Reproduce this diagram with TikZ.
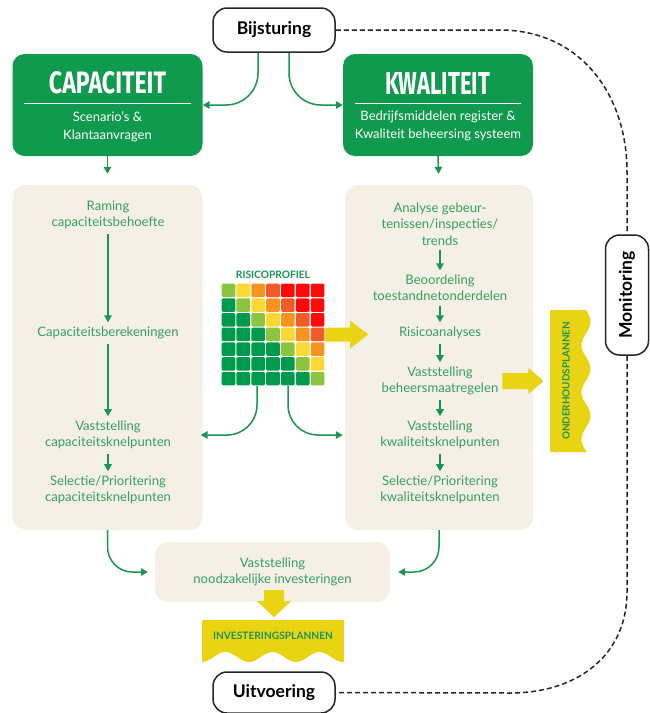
\documentclass[tikz,border=0pt]{standalone}
\usepackage{graphicx}
\usepackage{fontspec}
\setmainfont{Lato}
\newfontfamily\titlefont{Fira Sans}
\usetikzlibrary{arrows.meta,calc}
\definecolor{gbox}{HTML}{0F9A4E}
\definecolor{gline}{HTML}{1B9552}
\definecolor{gtext}{HTML}{36A062}
\definecolor{beige}{HTML}{F4F0E5}
\definecolor{ylw}{HTML}{E9D414}
\definecolor{cg}{HTML}{009A4E}
\definecolor{c0}{HTML}{8BC53F}
\definecolor{c1}{HTML}{FDD835}
\definecolor{c2}{HTML}{F7941D}
\definecolor{c3}{HTML}{F15A29}
\definecolor{c4}{HTML}{FF0A0A}
\tikzset{
  greenbox/.style={fill=gbox, rounded corners=12pt, minimum width=190pt, minimum height=102pt, inner sep=0pt},
  panel/.style={fill=beige, rounded corners=13pt, inner sep=0pt},
  steptext/.style={text=gtext, align=center, font=\fontsize{13.1}{16.3}\selectfont, inner xsep=2pt, inner ysep=4.5pt},
  garrow/.style={draw=gline, line width=1.5pt, -{Triangle[width=7.5pt,length=7pt]}},
  pill/.style={draw=black!85, line width=1.5pt, rounded corners=14pt, fill=white, font=\bfseries\fontsize{17.5}{19}\selectfont, inner sep=0pt},
  monline/.style={draw=black!85, line width=1.5pt, dash pattern=on 5pt off 3pt},
  bantext/.style={text=gline, font=\bfseries\fontsize{10.2}{11}\selectfont, inner sep=0pt},
  subtext/.style={text=white, align=center, font=\fontsize{13}{18}\selectfont, inner sep=0pt},
}
\begin{document}
\begin{tikzpicture}[x=1pt,y=-1pt]
\useasboundingbox[fill=white] (0,0) rectangle (649,713);

% dashed monitoring loop
\node[pill, minimum width=122pt, minimum height=44pt] (bij) at (274,30) {Bijsturing};
\node[pill, minimum width=122pt, minimum height=41pt] (uit) at (274,692.5) {Uitvoering};
\node[pill, rotate=90, minimum width=120pt, minimum height=43pt] (mon) at (627,295) {Monitoring};
\draw[monline] (bij.east) -- (500,30) .. controls (578,30) and (627,92) .. (627,172) -- (mon.east);
\draw[monline] (mon.west) -- (627,592) .. controls (627,655) and (578,693) .. (510,693) -- (uit.east);

% green header boxes
\node[greenbox] (cap) at (107.5,105) {};
\node[greenbox] (kwal) at (438,105) {};
\node[text=white, inner sep=0pt] (captitle) at (107.5,83) {\resizebox{117pt}{22pt}{\titlefont\bfseries CAPACITEIT}};
\node[text=white, inner sep=0pt] (kwaltitle) at (437.5,83) {\resizebox{105pt}{22pt}{\titlefont\bfseries KWALITEIT}};
\draw[white, line width=0.8pt] ($(cap.north west)+(12,50)$) -- ($(cap.north east)+(-12,50)$);
\draw[white, line width=0.8pt] ($(kwal.north west)+(12,50)$) -- ($(kwal.north east)+(-12,50)$);
\node[subtext] (capsub) at (107.5,127) {Scenario’s \&\\Klantaanvragen};
\node[subtext] (kwalsub) at (438,126) {Bedrijfsmiddelen register \&\\Kwaliteit beheersing systeem};

\draw[garrow, rounded corners=32pt] ($(bij.south)+(-16,0)$) |- (cap.east);
\draw[garrow, rounded corners=32pt] ($(bij.south)+(15,0)$) |- (kwal.west);

% panels
\node[panel, minimum width=190pt, minimum height=345pt] (capbg) at (107.5,357.5) {};
\node[panel, minimum width=188pt, minimum height=345pt] (kwalbg) at (439,357.5) {};
\node[panel, minimum width=235pt, minimum height=60pt] (invest) at (272.5,572) {};

\draw[garrow, shorten >=11pt] (cap.south) -- (capbg.north);
\draw[garrow, shorten >=11pt] (kwal.south) -- (kwalbg.north);

% capaciteit steps
\node[steptext] (c1) at (108,215) {Raming\\capaciteitsbehoefte};
\node[steptext] (c2) at (108,333) {Capaciteitsberekeningen};
\node[steptext] (c3) at (108,435) {Vaststelling\\capaciteitsknelpunten};
\node[steptext] (c4) at (108,490) {Selectie/Prioritering\\capaciteitsknelpunten};
\draw[garrow] (c1) -- (c2);
\draw[garrow] (c2) -- (c3);
\draw[garrow] (c3) -- (c4);

% kwaliteit steps
\node[steptext] (k1) at (440,224) {Analyse gebeur-\\tenissen/inspecties/\\trends};
\node[steptext] (k2) at (440,288) {Beoordeling\\toestandnetonderdelen};
\node[steptext] (k3) at (440,333) {Risicoanalyses};
\node[steptext] (k4) at (440,381) {Vaststelling\\beheersmaatregelen};
\node[steptext] (k5) at (440,435) {Vaststelling\\kwaliteitsknelpunten};
\node[steptext] (k6) at (440,490) {Selectie/Prioritering\\kwaliteitsknelpunten};
\draw[garrow] (k1) -- (k2);
\draw[garrow] (k2) -- (k3);
\draw[garrow] (k3) -- (k4);
\draw[garrow] (k4) -- (k5);
\draw[garrow] (k5) -- (k6);

% investering
\node[steptext, inner ysep=0pt] (inv) at (272.5,572) {Vaststelling\\noodzakelijke investeringen};
\draw[garrow, rounded corners=25pt, shorten >=7pt] (capbg.south) |- (invest.west);
\draw[garrow, rounded corners=25pt, shorten >=8pt] (kwalbg.south) |- (invest.east);

% risicoprofiel
\node[text=gline, font=\bfseries\fontsize{10.2}{11}\selectfont, inner sep=0pt] (rlabel) at (273,275) {RISICOPROFIEL};
\node[minimum width=104pt, minimum height=103pt, inner sep=0pt] (grid) at (273,334.5) {};
\foreach \r in {0,...,6}{\foreach \c in {0,...,6}{
  \pgfmathtruncatemacro{\d}{\c-\r}
  \ifnum\d<0 \def\cc{cg}\else\ifnum\d>3 \def\cc{c4}\else\def\cc{c\d}\fi\fi
  \fill[\cc, rounded corners=1.3pt] (221.6+\c*14.86, 283.6+\r*14.71) rectangle ++(13.7,13.5);
}}
\coordinate (t1) at (capbg.east |- c3.center);
\coordinate (t2) at (kwalbg.west |- k5.center);
\draw[garrow, rounded corners=30pt, shorten >=-2pt] ($(grid.south)+(-16,0)$) |- (t1);
\draw[garrow, rounded corners=30pt, shorten >=2pt] ($(grid.south)+(15,0)$) |- (t2);

% yellow arrows
\fill[ylw] (grid.east) ++(0,-7) -- ++(25,0) -- ++(0,-7) -- ++(18,14) -- ++(-18,14) -- ++(0,-7) -- ++(-25,0) -- cycle;
\fill[ylw] (k4.east) ++(2,-8) -- ++(26,0) -- ++(0,-5) -- ++(15,13) -- ++(-15,13) -- ++(0,-5) -- ++(-26,0) -- cycle;
\fill[ylw] ($(invest.south)+(1.5,-12)$) ++(-10,0) -- ++(20,0) -- ++(0,11) -- ++(7,0) -- ++(-17,16) -- ++(-17,-16) -- ++(7,0) -- cycle;

% banners
\fill[ylw] (550,310) -- (585,310) -- plot[domain=310:452, samples=80] ({586+4.5*sin(7.66*(\x-310))}, \x) -- (550,452) -- cycle;
\node[bantext, rotate=90, font=\bfseries\fontsize{9.9}{11}\selectfont] (ond) at (566,381) {ONDERHOUDSPLANNEN};
\fill[ylw] (202,620) -- (344,620) -- plot[domain=344:202, samples=80] (\x, {657+5*cos(7.66*(\x-202))}) -- cycle;
\node[bantext] (invtxt) at (273,636) {INVESTERINGSPLANNEN};
\end{tikzpicture}
\end{document}
